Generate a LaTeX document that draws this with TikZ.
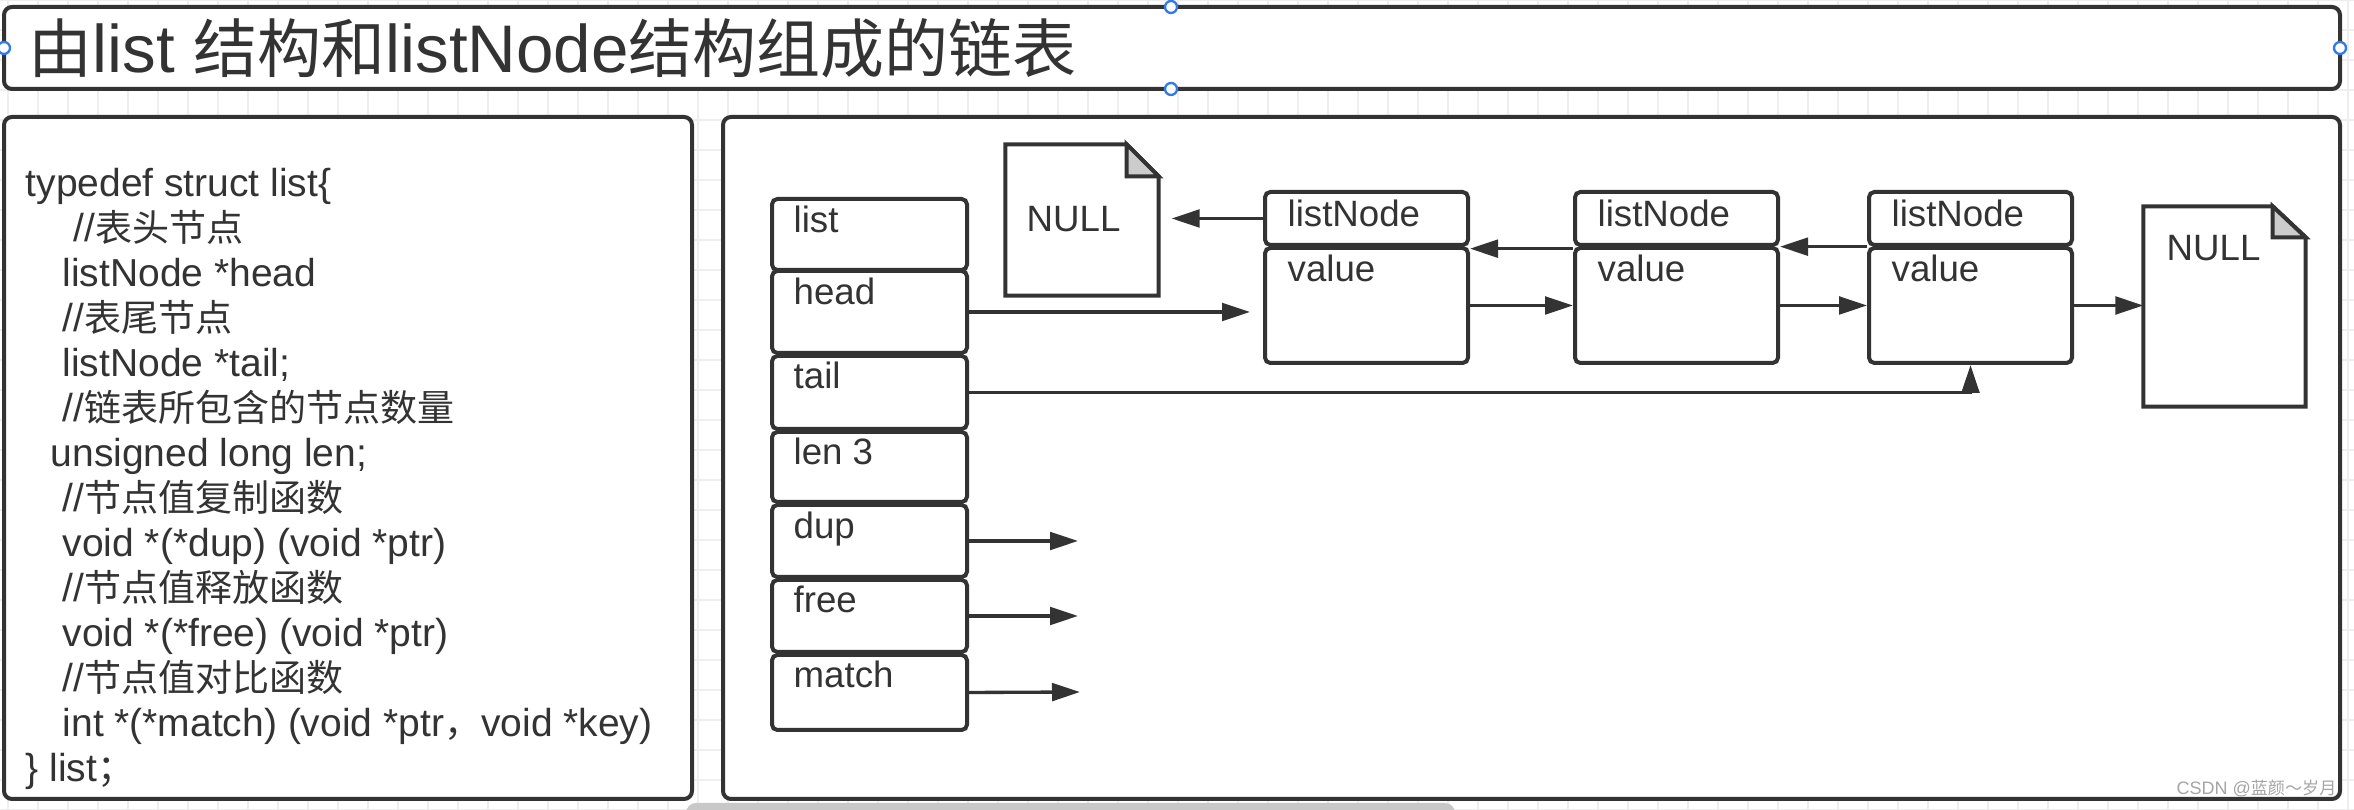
\documentclass[tikz,border=0pt]{standalone}
\usepackage{fontspec}
\setmainfont{Liberation Sans}
\newfontfamily\zhfont[Scale=0.95]{Noto Sans CJK SC}
\usepackage{tikz}
\usetikzlibrary{arrows.meta,calc}
\usepackage{xcolor}
\definecolor{linecol}{RGB}{51,51,51}
\definecolor{gridcol}{RGB}{238,238,238}
\definecolor{foldcol}{RGB}{204,204,204}
\definecolor{handlecol}{RGB}{52,122,230}
\definecolor{markcol}{RGB}{165,165,165}
\definecolor{barcol}{RGB}{200,200,200}
\newdimen\pxu
\pxu=0.3pt
\newcommand{\zh}[1]{{\zhfont #1}}
\tikzset{
  % outer panels
  panelbox/.style={draw=linecol, line width=1.2pt, fill=white, rounded corners=2.4pt},
  % field of the list struct (arg: height in px)
  fieldbox/.style={rectangle, draw=linecol, line width=1.2pt, fill=white, rounded corners=1.6pt,
                   minimum width=195*\pxu, minimum height=#1*\pxu, inner sep=0pt},
  % part of a listNode (arg: height in px)
  partbox/.style={rectangle, draw=linecol, line width=1.2pt, fill=white, rounded corners=1.6pt,
                  minimum width=203*\pxu, minimum height=#1*\pxu, inner sep=0pt},
  % invisible frame of a NULL page
  docbox/.style={rectangle, inner sep=0pt, minimum width=#1},
  docline/.style={draw=linecol, line width=1.2pt, fill=white, line join=miter},
  % texts
  titletxt/.style={anchor=base west, inner sep=0pt, text=linecol, font=\fontsize{20.2}{24}\selectfont},
  codetxt/.style={anchor=base west, inner sep=0pt, text=linecol, font=\fontsize{11.7}{14}\selectfont},
  fieldtxt/.style={anchor=base west, inner sep=0pt, text=linecol, font=\fontsize{11}{13}\selectfont},
  marktxt/.style={anchor=base east, inner sep=0pt, text=markcol, font=\fontsize{5.4}{6}\selectfont},
  % pointer arrow
  ptr/.style={-{Triangle[length=8.4pt,width=5.3pt]}, draw=linecol, line width=1pt},
  % selection handle
  handle/.style={circle, draw=handlecol, fill=white, line width=0.7pt, minimum size=3.6pt, inner sep=0pt},
  gridline/.style={draw=gridcol, line width=0.4pt},
}

\begin{document}
\begin{tikzpicture}[x=0.3pt, y=-0.3pt]

  \useasboundingbox (0,0) rectangle (2354,810);
  \fill[white] (0,0) rectangle (2354,810);

  % ═══════ CANVAS GRID ═══════
  \foreach \gx in {8,38,...,2354} \draw[gridline] (\gx,0) -- (\gx,810);
  \foreach \gy in {0,30,...,810} \draw[gridline] (0,\gy) -- (2354,\gy);

  % ═══════ TITLE ═══════
  \draw[panelbox] (4,7) rectangle (2340,89);
  \node[titletxt] (title) at (28,73) {\zh{由}list \zh{结构和}listNode\zh{结构组成的链表}};
  \node[handle] (hT) at (1171,7) {};
  \node[handle] (hB) at (1171,89) {};
  \node[handle] (hL) at (4,48) {};
  \node[handle] (hR) at (2340,48) {};

  % ═══════ STRUCT CODE ═══════
  \draw[panelbox] (4,117) rectangle (692,799);
  \node[codetxt] (c1)  at (25,197)  {typedef struct list\{};
  \node[codetxt] (c2)  at (73,242)  {//\zh{表头节点}};
  \node[codetxt] (c3)  at (62,287)  {listNode *head};
  \node[codetxt] (c4)  at (62,332)  {//\zh{表尾节点}};
  \node[codetxt] (c5)  at (62,377)  {listNode *tail;};
  \node[codetxt] (c6)  at (62,422)  {//\zh{链表所包含的节点数量}};
  \node[codetxt] (c7)  at (50,467)  {unsigned long len;};
  \node[codetxt] (c8)  at (62,512)  {//\zh{节点值复制函数}};
  \node[codetxt] (c9)  at (62,557)  {void *(*dup) (void *ptr)};
  \node[codetxt] (c10) at (62,602)  {//\zh{节点值释放函数}};
  \node[codetxt] (c11) at (62,647)  {void *(*free) (void *ptr)};
  \node[codetxt] (c12) at (62,692)  {//\zh{节点值对比函数}};
  \node[codetxt] (c13) at (62,737)  {int *(*match) (void *ptr\zh{，}void *key)};
  \node[codetxt] (c14) at (25,782)  {\} list\zh{；}};

  % ═══════ DIAGRAM PANEL ═══════
  \draw[panelbox] (723,117) rectangle (2340,799);

  % list struct fields
  \node[fieldbox=71] (list)  at (869.5,234.5) {};
  \node[fieldbox=82] (head)  at (869.5,312)   {};
  \node[fieldbox=73] (tail)  at (869.5,392.5) {};
  \node[fieldbox=70] (len)   at (869.5,467)   {};
  \node[fieldbox=72] (dup)   at (869.5,541)   {};
  \node[fieldbox=72] (free)  at (869.5,616)   {};
  \node[fieldbox=75] (match) at (869.5,692.5) {};
  \node[fieldtxt] (tlist)  at (793,233) {list};
  \node[fieldtxt] (thead)  at (793,305) {head};
  \node[fieldtxt] (ttail)  at (793,389) {tail};
  \node[fieldtxt] (tlen)   at (793,465) {len 3};
  \node[fieldtxt] (tdup)   at (793,539) {dup};
  \node[fieldtxt] (tfree)  at (793,613) {free};
  \node[fieldtxt] (tmatch) at (793,688) {match};

  % listNodes
  \node[partbox=53]  (ln1) at (1366.5,218.5) {};
  \node[partbox=115] (v1)  at (1366.5,305.5) {};
  \node[partbox=53]  (ln2) at (1676.5,218.5) {};
  \node[partbox=115] (v2)  at (1676.5,305.5) {};
  \node[partbox=53]  (ln3) at (1970.5,218.5) {};
  \node[partbox=115] (v3)  at (1970.5,305.5) {};
  \node[fieldtxt] (tln1) at (1287,227) {listNode};
  \node[fieldtxt] (tv1)  at (1287,282) {value};
  \node[fieldtxt] (tln2) at (1597,227) {listNode};
  \node[fieldtxt] (tv2)  at (1597,282) {value};
  \node[fieldtxt] (tln3) at (1891,227) {listNode};
  \node[fieldtxt] (tv3)  at (1891,282) {value};

  % NULL pages
  \node[docbox=152*\pxu, minimum height=150*\pxu] (null1) at (1082,220) {};
  \draw[docline] (null1.south west) -- (null1.north west) -- ($(null1.north east)+(-32,0)$)
    -- ($(null1.north east)+(0,32)$) -- (null1.south east) -- cycle;
  \draw[docline, fill=foldcol] ($(null1.north east)+(-32,0)$) -- ($(null1.north east)+(-32,32)$)
    -- ($(null1.north east)+(0,32)$) -- cycle;
  \node[fieldtxt] (tnull1) at (1026,232) {NULL};

  \node[docbox=161*\pxu, minimum height=199*\pxu] (null2) at (2224.5,306.5) {};
  \draw[docline] (null2.south west) -- (null2.north west) -- ($(null2.north east)+(-33,0)$)
    -- ($(null2.north east)+(0,31)$) -- (null2.south east) -- cycle;
  \draw[docline, fill=foldcol] ($(null2.north east)+(-33,0)$) -- ($(null2.north east)+(-33,31)$)
    -- ($(null2.north east)+(0,31)$) -- cycle;
  \node[fieldtxt] (tnull2) at (2166,261) {NULL};

  % pointers
  \draw[ptr, shorten >=3.9pt] (head.east) -- (head.east -| v1.west);
  \draw[ptr, shorten >=3.9pt] (ln1.west) -- (ln1.west -| null1.east);
  \draw[ptr] (v1.east) -- (v1.east -| v2.west);
  \draw[ptr] (v2.east) -- (v2.east -| v3.west);
  \draw[ptr] (v3.east) -- (v3.east -| null2.west);
  \draw[ptr] ([yshift=-0.8pt]v2.north west) -- ([yshift=-0.8pt]v2.north west -| v1.east);
  \draw[ptr] ([yshift=-0.2pt]v3.north west) -- ([yshift=-0.2pt]v3.north west -| v2.east);
  \draw[ptr] (tail.east) -| (v3.south);

  % function pointers, free ends
  \coordinate (dupend)   at (1078,541);
  \coordinate (freeend)  at (1078,616);
  \coordinate (matchend) at (1080,692);
  \draw[ptr] (dup.east) -- (dupend);
  \draw[ptr] (free.east) -- (freeend);
  \draw[ptr] (match.east) -- (matchend);

  % ═══════ WINDOW BITS ═══════
  \fill[barcol, rounded corners=3pt] (686,803) rectangle (1455,820);
  \node[marktxt] (wm) at (2337,795) {CSDN @\zh{蓝颜～岁月}};

\end{tikzpicture}
\end{document}
